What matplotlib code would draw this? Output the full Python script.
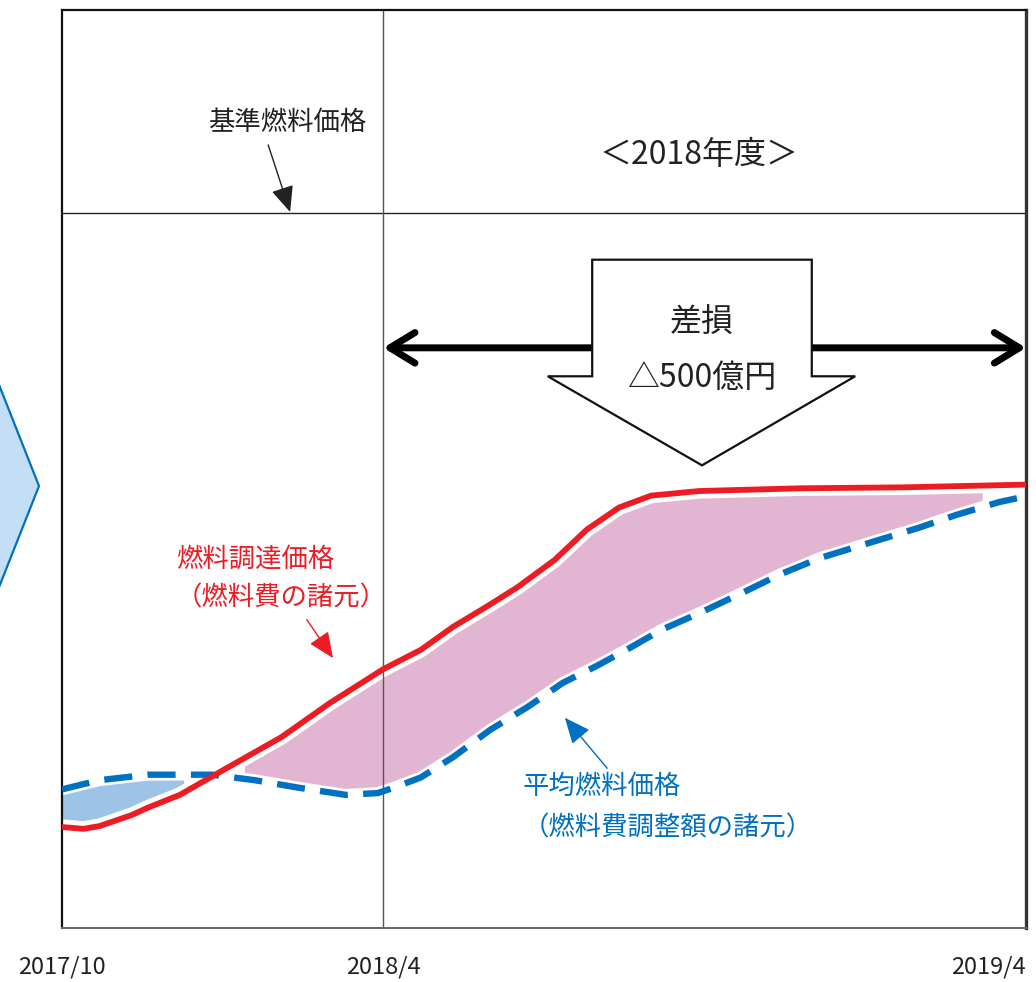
import matplotlib
matplotlib.use("Agg")
import matplotlib.pyplot as plt
from matplotlib.patches import Polygon
import numpy as np

plt.rcParams['font.family'] = ['Noto Sans CJK JP', 'DejaVu Sans']

# months since 2017/10
red_x = [0, 0.4, 0.7, 1.3, 1.6, 2.2, 3.1, 4.1, 5.0, 6.0, 6.7, 7.3, 7.9, 8.5,
         9.2, 9.8, 10.4, 11.0, 11.9, 13.8, 15.7, 18.0]
red_y = [11.0, 10.8, 11.1, 12.3, 13.1, 14.5, 17.5, 20.8, 24.5, 28.2, 30.3, 32.8,
         34.9, 37.1, 40.1, 43.4, 45.8, 47.1, 47.6, 47.9, 48.0, 48.3]
blue_x = [0, 0.7, 1.6, 2.8, 3.6, 4.4, 5.3, 5.9, 6.25, 6.7, 7.3, 8.0, 8.7, 9.35,
          10.0, 10.6, 11.2, 11.9, 12.7, 13.4, 14.15, 15.1, 16.0, 16.7, 17.5, 17.9]
blue_y = [15.1, 16.1, 16.7, 16.7, 16.1, 15.3, 14.5, 14.7, 15.4, 16.4, 18.6, 21.6,
          24.1, 26.7, 28.6, 30.5, 32.5, 34.3, 36.5, 38.5, 40.3, 42.0, 43.6, 45.0,
          46.4, 46.9]
base_price = 77.9
fy_start = 6          # 2018/4
tick_pos = [0, 6, 18]
tick_labels = ["2017/10", "2018/4", "2019/4"]

red = "#ed1c24"
blue = "#0070c0"

fig = plt.figure(figsize=(10.36, 9.82), dpi=100)
ax = fig.add_axes([62 / 1036, 54 / 982, 964 / 1036, 918 / 982])
ax.set_xlim(0, 18)
ax.set_ylim(0, 100)

# fills between the two prices
xs = np.linspace(0, 17.9, 600)
r = np.interp(xs, red_x, red_y)
b = np.interp(xs, blue_x, blue_y)
ax.fill_between(xs, b, r, where=(r > b) & (xs > 3.4) & (xs < 17.2),
                color="#e2b5d3", lw=0, zorder=1)
ax.fill_between(xs, r, b, where=(b > r) & (xs < 2.3), color="#9dc3e6", lw=0, zorder=1)

# white halos
ax.plot(red_x, red_y, color="white", lw=11, solid_capstyle="butt", zorder=2)
ax.plot(blue_x, blue_y, color="white", lw=8.5, solid_capstyle="butt", zorder=2)
ax.plot(blue_x, blue_y, color=blue, lw=4.6, dashes=(4.4, 2.4), zorder=3)
ax.plot(red_x, red_y, color=red, lw=4.2, zorder=4)

# reference lines
ax.axhline(base_price, color="#222222", lw=1, zorder=2)
ax.axvline(fy_start, color="#555555", lw=1, zorder=2)

# double arrow for FY2018
ax.annotate("", xy=(18, 63.2), xytext=(fy_start, 63.2),
            arrowprops=dict(arrowstyle="<->,head_length=0.9,head_width=0.55",
                            lw=5, color="black", mutation_scale=20,
                            shrinkA=0, shrinkB=0, capstyle="round",
                            joinstyle="round"),
            zorder=5)

# big block arrow
block = Polygon([(9.90, 72.8), (14.00, 72.8), (14.00, 60.1), (14.81, 60.1),
                 (11.95, 50.4), (9.07, 60.1), (9.90, 60.1)],
                closed=True, facecolor="white", edgecolor="#111111", lw=1.6, zorder=6)
ax.add_patch(block)
ax.text(11.95, 65.9, "差損", fontsize=23, ha="center", va="center", color="#222222", zorder=7)
ax.text(11.95, 59.9, "△500億円", fontsize=23, ha="center", va="center", color="#222222", zorder=7)

ax.text(11.9, 84.2, "＜2018年度＞", fontsize=23, ha="center", va="center", color="#222222")

ax.text(4.2, 87.7, "基準燃料価格", fontsize=19, ha="center", va="center", color="#222222")
ax.annotate("", xy=(4.26, 78.0), xytext=(3.85, 85.3),
            arrowprops=dict(arrowstyle="-|>,head_length=0.8,head_width=0.35",
                            lw=1, color="#222222", mutation_scale=20,
                            shrinkA=0, shrinkB=0))

ax.text(2.13, 40.2, "燃料調達価格", fontsize=19, ha="left", va="center", color=red)
ax.text(2.13, 35.9, "（燃料費の諸元）", fontsize=19, ha="left", va="center", color=red)
ax.annotate("", xy=(5.06, 29.4), xytext=(4.57, 33.6),
            arrowprops=dict(arrowstyle="-|>,head_length=0.8,head_width=0.35",
                            lw=1, color=red, mutation_scale=20,
                            shrinkA=0, shrinkB=0))

ax.text(8.61, 15.4, "平均燃料価格", fontsize=19, ha="left", va="center", color=blue)
ax.text(8.61, 10.9, "（燃料費調整額の諸元）", fontsize=19, ha="left", va="center", color=blue)
ax.annotate("", xy=(9.39, 22.9), xytext=(10.18, 17.4),
            arrowprops=dict(arrowstyle="-|>,head_length=0.8,head_width=0.35",
                            lw=1, color=blue, mutation_scale=20,
                            shrinkA=0, shrinkB=0))

# axes styling
ax.set_yticks([])
ax.set_xticks(tick_pos)
ax.set_xticklabels(tick_labels, fontsize=17, color="#222222")
ax.get_xticklabels()[-1].set_ha("right")
ax.tick_params(axis="x", length=0, pad=20)
for s in ["top", "left"]:
    ax.spines[s].set_linewidth(1.6)
    ax.spines[s].set_color("#111111")
ax.spines["right"].set_linewidth(2.4)
ax.spines["right"].set_color("#333333")
ax.spines["bottom"].set_linewidth(1.4)
ax.spines["bottom"].set_color("#666666")

# chevron on the left edge
chev = Polygon([(-40 / 1036, 1 - 286 / 982), (39 / 1036, 1 - 486 / 982),
                (-40 / 1036, 1 - 686 / 982)], closed=True, transform=fig.transFigure,
               facecolor="#c3def5", edgecolor=blue, lw=1.6, clip_on=False)
fig.add_artist(chev)

fig.savefig("out.png", dpi=100)
